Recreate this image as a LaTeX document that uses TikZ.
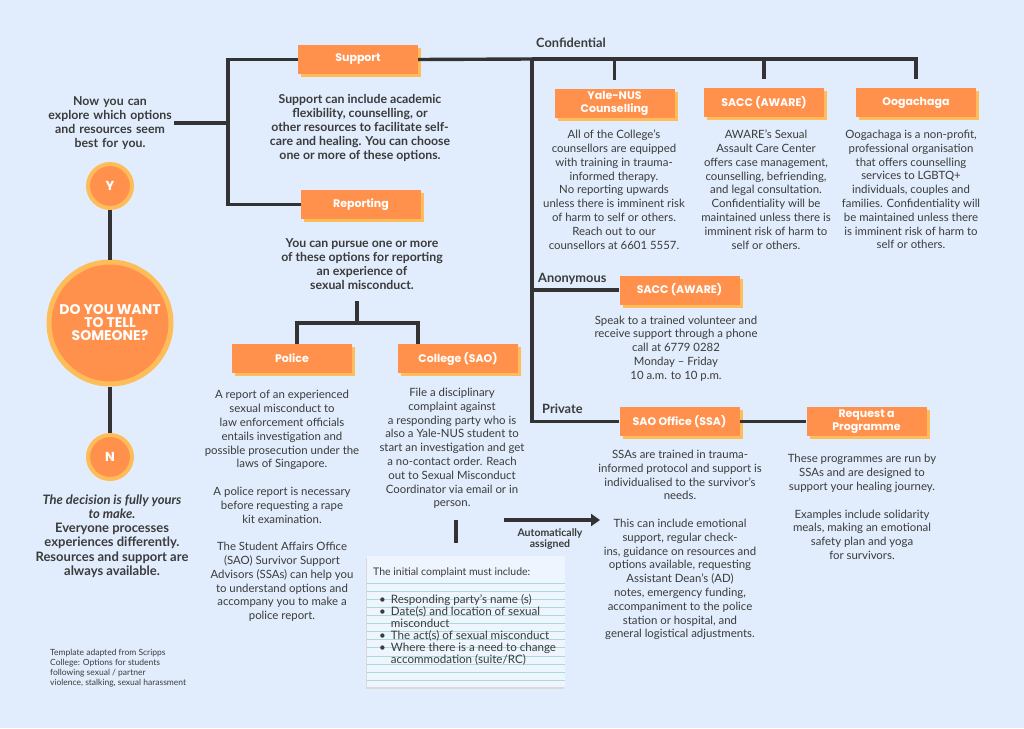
\documentclass[tikz,border=0pt]{standalone}
\usepackage{fontspec}
\setmainfont{Lato}
\newfontfamily\headfont{Poppins}
\usetikzlibrary{shadows,arrows.meta}
\definecolor{bgblue}{HTML}{E1EDFC}
\definecolor{boxorange}{HTML}{FF914D}
\definecolor{boxshadow}{HTML}{FFBD59}
\definecolor{inkgrey}{HTML}{3B3B3B}
\definecolor{linegrey}{HTML}{333333}
\definecolor{ruleteal}{HTML}{A9DDD2}
\definecolor{notepaper}{HTML}{EEF5FE}
\newcommand{\BodySize}{\fontsize{11.4}{13.8}\selectfont}
\newcommand{\BoldSize}{\fontsize{12.3}{13.9}\selectfont}
\newcommand{\Gap}{13.8pt}

\begin{document}
\begin{tikzpicture}[x=1pt,y=-1pt,
  optbox/.style={rectangle, fill=boxorange, text=white, align=center,
    font=\headfont\bfseries\fontsize{11}{13}\selectfont,
    minimum width=120pt, minimum height=29pt, inner sep=1pt,
    copy shadow={shadow xshift=3pt, shadow yshift=-3pt, fill=boxshadow, draw=none}},
  info/.style={text=inkgrey, font=\BodySize, align=center, inner sep=0pt},
  infobold/.style={info, font=\BoldSize\bfseries},
  flowline/.style={draw=linegrey, line width=3.4pt},
  ring/.style={circle, fill=boxorange, draw=boxshadow, line width=4pt, text=white, align=center,
    font=\headfont\bfseries\fontsize{13}{13}\selectfont, minimum size=44pt, inner sep=0pt},
  tag/.style={text=inkgrey, font=\fontsize{12.8}{13}\selectfont\bfseries, inner sep=0pt, anchor=west},
  notebox/.style={rectangle, fill=notepaper, minimum width=198pt, minimum height=131pt,
    copy shadow={shadow xshift=-1.5pt, shadow yshift=-1.5pt, fill=black!15, draw=none}},
  noterule/.style={draw=ruleteal, line width=0.7pt}]

\fill[bgblue] (0,0) rectangle (1024,728);
\useasboundingbox (0,0) rectangle (1024,728);

% left column
\node[infobold, text width=128pt] (intro) at (110,123)
  {Now you can\\explore which options\\and resources seem\\best for you.};
\node[ring] (yes) at (110,186) {Y};
\node[ring, minimum size=122pt, line width=5pt,
  font=\headfont\bfseries\fontsize{14}{13}\selectfont] (q) at (110,323)
  {DO YOU WANT\\TO TELL\\SOMEONE?};
\node[ring] (no) at (110,457) {N};
\node[infobold, font=\fontsize{13}{14.2}\selectfont\bfseries] (decision) at (112,536)
  {{\itshape The decision is fully yours}\\{\itshape to make.}\\Everyone processes\\experiences differently.\\Resources and support are\\always available.};
\node[info, font=\fontsize{8.5}{10}\selectfont, align=left, anchor=west] (credit) at (50,668)
  {Template adapted from Scripps\\College: Options for students\\following sexual / partner\\violence, stalking, sexual harassment};

\draw[flowline] (yes) -- (q);
\draw[flowline] (q) -- (no);

% support and reporting
\coordinate (fork) at (228,123);
\node[optbox] (support) at (358,59.5) {Support};
\node[infobold] (supporttext) at (360,128)
  {Support can include academic\\flexibility, counselling, or\\other resources to facilitate self-\\care and healing. You can choose\\one or more of these options.};
\node[optbox] (reporting) at (361,204.5) {Reporting};
\node[infobold] (reporttext) at (362,264)
  {You can pursue one or more\\of these options for reporting\\an experience of\\sexual misconduct.};

\draw[flowline] (intro.east) -- (fork);
\draw[flowline] (support.west) -| (fork) |- (reporting.west);

% police and college
\coordinate (rtop) at (357,301);
\coordinate (rsplit) at (357,323);
\node[optbox] (police) at (292,358.5) {Police};
\node[optbox] (college) at (458,358.5) {College (SAO)};
\draw[flowline] (rtop) -- (rsplit);
\draw[flowline] (police.north -| 297,0) |- (rsplit) -| (college.north -| 418,0);

\node[info] (policetext) at (282,506)
  {A report of an experienced\\sexual misconduct to\\law enforcement officials\\entails investigation and\\possible prosecution under the\\laws of Singapore.\\[\Gap]A police report is necessary\\before requesting a rape\\kit examination.\\[\Gap]The Student Affairs Office\\(SAO) Survivor Support\\Advisors (SSAs) can help you\\to understand options and\\accompany you to make a\\police report.};
\node[info] (collegetext) at (452,448.5)
  {File a disciplinary\\complaint against\\a responding party who is\\also a Yale-NUS student to\\start an investigation and get\\a no-contact order. Reach\\out to Sexual Misconduct\\Coordinator via email or in\\person.};

\coordinate (stubtop) at (456,520);
\coordinate (stubbot) at (456,543);
\draw[flowline] (stubtop) -- (stubbot);

% complaint note
\node[notebox] (complaint) at (466,621.5) {};
\foreach \k in {0,...,12}
  \draw[noterule] (367,{583+8.1*\k}) -- (565,{583+8.1*\k});
\node[info, font=\fontsize{10.5}{11}\selectfont, anchor=west] (complainthead) at (373,573)
  {The initial complaint must include:};
\node[info, font=\fontsize{11.6}{11}\selectfont, anchor=north west] (complaintlist) at (379,594)
  {\begin{tabular}{@{}l@{\hspace{5pt}}l@{}}
   \textbullet & Responding party's name (s)\\
   \textbullet & Date(s) and location of sexual\\
               & misconduct\\
   \textbullet & The act(s) of sexual misconduct\\
   \textbullet & Where there is a need to change\\
               & accommodation (suite/RC)
   \end{tabular}};

% automatic assignment
\coordinate (autostart) at (504,520);
\coordinate (autoend) at (600,520);
\draw[flowline, -{Triangle[length=9pt,width=12pt]}] (autostart) -- (autoend);
\node[infobold, font=\fontsize{10.5}{11.5}\selectfont\bfseries] (autolabel) at (550,539)
  {Automatically\\assigned};

% confidential
\coordinate (conf) at (532,59);
\node[tag] (conflabel) at (536,43) {Confidential};
\node[optbox] (yale) at (614.5,103.5) {Yale-NUS\\Counselling};
\node[optbox] (sacc) at (764,102.5) {SACC (AWARE)};
\node[optbox] (oog) at (916,102.5) {Oogachaga};

\draw[flowline] (support.east) -- (conf);
\draw[flowline, shorten >=9pt] (conf) -| (oog.north);
\draw[flowline, shorten >=9pt] (yale.north |- conf) -- (yale.north);
\draw[flowline, shorten >=9pt] (sacc.north |- conf) -- (sacc.north);

\node[info] (yaletext) at (614,189.5)
  {All of the College's\\counsellors are equipped\\with training in trauma-\\informed therapy.\\No reporting upwards\\unless there is imminent risk\\of harm to self or others.\\Reach out to our\\counsellors at 6601 5557.};
\node[info] (sacctext) at (766,189.5)
  {AWARE's Sexual\\Assault Care Center\\offers case management,\\counselling, befriending,\\and legal consultation.\\Confidentiality will be\\maintained unless there is\\imminent risk of harm to\\self or others.};
\node[info] (oogtext) at (911,189.5)
  {Oogachaga is a non-profit,\\professional organisation\\that offers counselling\\services to LGBTQ+\\individuals, couples and\\families. Confidentiality will\\be maintained unless there\\is imminent risk of harm to\\self or others.};

% anonymous
\node[tag] (anonlabel) at (538,279) {Anonymous};
\node[optbox] (anon) at (679.5,290) {SACC (AWARE)};
\draw[flowline] (anon.west -| conf) -- (anon.west);
\node[info] (anontext) at (676,348.5)
  {Speak to a trained volunteer and\\receive support through a phone\\call at 6779 0282\\Monday -- Friday\\10 a.m. to 10 p.m.};

% private
\node[tag] (privlabel) at (542,409) {Private};
\node[optbox] (sao) at (679.5,421.5) {SAO Office (SSA)};
\node[optbox] (req) at (866.5,421.5) {Request a\\Programme};
\draw[flowline] (conf) |- (sao.west);
\draw[flowline] (sao.east) -- (req.west);

\node[info] (saotext) at (680,545)
  {SSAs are trained in trauma-\\informed protocol and support is\\individualised to the survivor's\\needs.\\[\Gap]This can include emotional\\support, regular check-\\ins, guidance on resources and\\options available, requesting\\Assistant Dean's (AD)\\notes, emergency funding,\\accompaniment to the police\\station or hospital, and\\general logistical adjustments.};
\node[info] (reqtext) at (862,507)
  {These programmes are run by\\SSAs and are designed to\\support your healing journey.\\[\Gap]Examples include solidarity\\meals, making an emotional\\safety plan and yoga\\for survivors.};

\end{tikzpicture}
\end{document}
